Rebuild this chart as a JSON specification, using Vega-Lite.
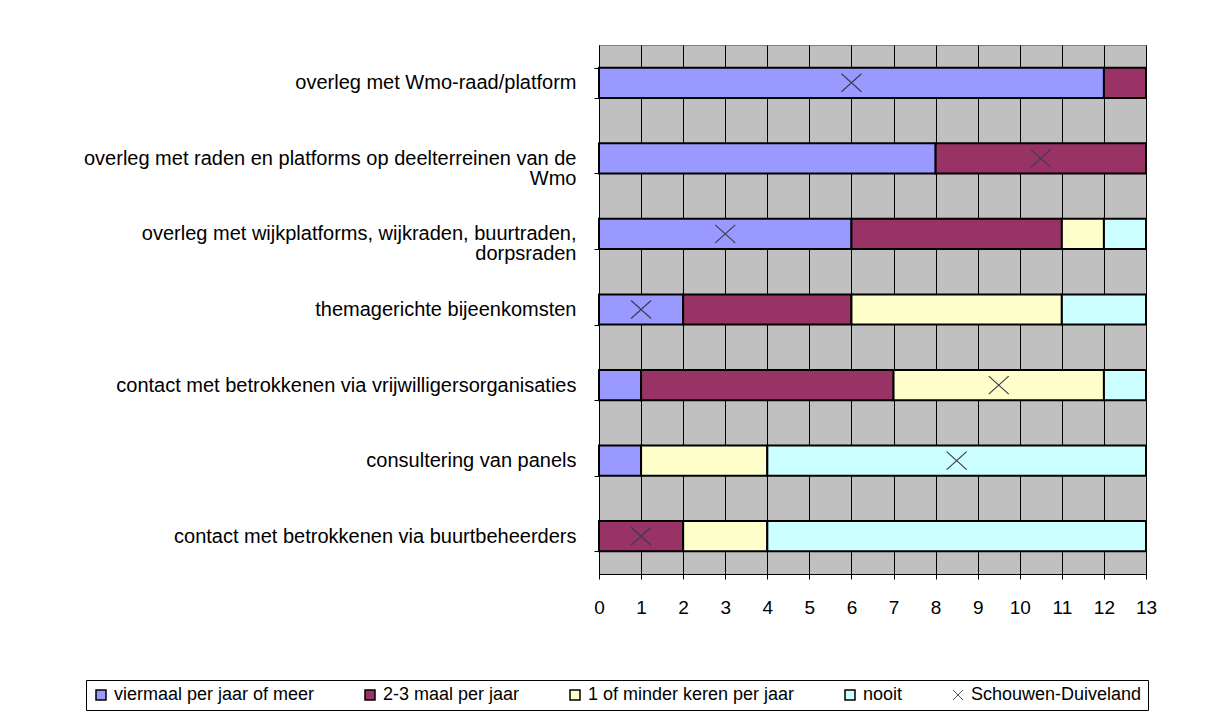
{
  "$schema": "https://vega.github.io/schema/vega-lite/v6.json",
  "autosize": "none",
  "width": 547,
  "height": 529,
  "padding": {"left": 599, "top": 45, "right": 68, "bottom": 150},
  "background": "white",
  "datasets": {
    "segments": [
      {"item": "overleg met Wmo-raad/platform", "freq": "viermaal per jaar of meer", "k": 1, "n": 12},
      {"item": "overleg met Wmo-raad/platform", "freq": "2-3 maal per jaar", "k": 2, "n": 1},
      {"item": "overleg met raden en platforms op deelterreinen van de|Wmo", "freq": "viermaal per jaar of meer", "k": 1, "n": 8},
      {"item": "overleg met raden en platforms op deelterreinen van de|Wmo", "freq": "2-3 maal per jaar", "k": 2, "n": 5},
      {"item": "overleg met wijkplatforms, wijkraden, buurtraden,|dorpsraden", "freq": "viermaal per jaar of meer", "k": 1, "n": 6},
      {"item": "overleg met wijkplatforms, wijkraden, buurtraden,|dorpsraden", "freq": "2-3 maal per jaar", "k": 2, "n": 5},
      {"item": "overleg met wijkplatforms, wijkraden, buurtraden,|dorpsraden", "freq": "1 of minder keren per jaar", "k": 3, "n": 1},
      {"item": "overleg met wijkplatforms, wijkraden, buurtraden,|dorpsraden", "freq": "nooit", "k": 4, "n": 1},
      {"item": "themagerichte bijeenkomsten", "freq": "viermaal per jaar of meer", "k": 1, "n": 2},
      {"item": "themagerichte bijeenkomsten", "freq": "2-3 maal per jaar", "k": 2, "n": 4},
      {"item": "themagerichte bijeenkomsten", "freq": "1 of minder keren per jaar", "k": 3, "n": 5},
      {"item": "themagerichte bijeenkomsten", "freq": "nooit", "k": 4, "n": 2},
      {"item": "contact met betrokkenen via vrijwilligersorganisaties", "freq": "viermaal per jaar of meer", "k": 1, "n": 1},
      {"item": "contact met betrokkenen via vrijwilligersorganisaties", "freq": "2-3 maal per jaar", "k": 2, "n": 6},
      {"item": "contact met betrokkenen via vrijwilligersorganisaties", "freq": "1 of minder keren per jaar", "k": 3, "n": 5},
      {"item": "contact met betrokkenen via vrijwilligersorganisaties", "freq": "nooit", "k": 4, "n": 1},
      {"item": "consultering van panels", "freq": "viermaal per jaar of meer", "k": 1, "n": 1},
      {"item": "consultering van panels", "freq": "1 of minder keren per jaar", "k": 3, "n": 3},
      {"item": "consultering van panels", "freq": "nooit", "k": 4, "n": 9},
      {"item": "contact met betrokkenen via buurtbeheerders", "freq": "2-3 maal per jaar", "k": 2, "n": 2},
      {"item": "contact met betrokkenen via buurtbeheerders", "freq": "1 of minder keren per jaar", "k": 3, "n": 2},
      {"item": "contact met betrokkenen via buurtbeheerders", "freq": "nooit", "k": 4, "n": 9}
    ],
    "markers": [
      {"item": "overleg met Wmo-raad/platform", "pos": 6},
      {"item": "overleg met raden en platforms op deelterreinen van de|Wmo", "pos": 10.5},
      {"item": "overleg met wijkplatforms, wijkraden, buurtraden,|dorpsraden", "pos": 3},
      {"item": "themagerichte bijeenkomsten", "pos": 1},
      {"item": "contact met betrokkenen via vrijwilligersorganisaties", "pos": 9.5},
      {"item": "consultering van panels", "pos": 8.5},
      {"item": "contact met betrokkenen via buurtbeheerders", "pos": 1}
    ]
  },
  "config": {
    "view": {"fill": "#C0C0C0", "stroke": "#808080", "strokeWidth": 1},
    "font": "Liberation Sans"
  },
  "layer": [
    {
      "data": {"name": "segments"},
      "mark": {"type": "bar", "stroke": "black", "strokeWidth": 2, "strokeJoin": "miter"},
      "encoding": {
        "y": {
          "field": "item",
          "type": "nominal",
          "scale": {
            "domain": [
              "overleg met Wmo-raad/platform",
              "overleg met raden en platforms op deelterreinen van de|Wmo",
              "overleg met wijkplatforms, wijkraden, buurtraden,|dorpsraden",
              "themagerichte bijeenkomsten",
              "contact met betrokkenen via vrijwilligersorganisaties",
              "consultering van panels",
              "contact met betrokkenen via buurtbeheerders"
            ],
            "paddingInner": 0.6,
            "paddingOuter": 0.3
          },
          "axis": {
            "title": null,
            "tickBand": "extent",
            "labelExpr": "split(datum.label, '|')",
            "labelFont": "Liberation Sans",
            "labelFontSize": 20,
            "labelColor": "black",
            "labelLimit": 700,
            "labelPadding": 18,
            "labelLineHeight": 20,
            "tickSize": 5,
            "tickColor": "black",
            "domainColor": "black",
            "grid": false,
            "encode": {
              "labels": {
                "update": {
                  "dy": [
                    {"test": "indexof(datum.value, '|') >= 0", "value": -8},
                    {"value": 0}
                  ]
                }
              }
            }
          }
        },
        "x": {
          "field": "n",
          "type": "quantitative",
          "stack": "zero",
          "scale": {"domain": [0, 13], "nice": false},
          "axis": {
            "title": null,
            "values": [0, 1, 2, 3, 4, 5, 6, 7, 8, 9, 10, 11, 12, 13],
            "grid": true,
            "gridColor": "black",
            "gridOpacity": 1,
            "gridWidth": 1,
            "labelFont": "Liberation Sans",
            "labelFontSize": 19,
            "labelColor": "black",
            "labelPadding": 19,
            "labelFlush": false,
            "tickSize": 5,
            "tickColor": "black",
            "domainColor": "black"
          }
        },
        "color": {
          "field": "freq",
          "type": "nominal",
          "scale": {
            "domain": ["viermaal per jaar of meer", "2-3 maal per jaar", "1 of minder keren per jaar", "nooit", "Schouwen-Duiveland"],
            "range": ["#9999FF", "#993366", "#FFFFCC", "#CCFFFF", "#3c3c50"]
          },
          "legend": {
            "title": null,
            "orient": "none",
            "legendX": -513,
            "legendY": 635,
            "direction": "horizontal",
            "labelFont": "Liberation Sans",
            "labelFontSize": 18,
            "labelColor": "black",
            "labelOffset": 4,
            "labelLimit": 400,
            "symbolSize": 100,
            "symbolType": "square",
            "symbolStrokeWidth": 1.5,
            "symbolStrokeColor": "black",
            "strokeColor": "black",
            "fillColor": "white",
            "padding": 6,
            "columnPadding": 46,
            "encode": {
              "symbols": {
                "update": {
                  "shape": {"signal": "datum.value === 'Schouwen-Duiveland' ? 'M-1,-1L1,1M-1,1L1,-1' : 'square'"},
                  "fill": {"signal": "datum.value === 'Schouwen-Duiveland' ? 'transparent' : scale('color', datum.value)"},
                  "stroke": {"signal": "datum.value === 'Schouwen-Duiveland' ? '#555555' : 'black'"},
                  "strokeWidth": {"signal": "datum.value === 'Schouwen-Duiveland' ? 1 : 1.5"},
                  "opacity": {"value": 1}
                }
              }
            }
          }
        },
        "order": {"field": "k", "type": "quantitative"}
      }
    },
    {
      "data": {"name": "markers"},
      "mark": {
        "type": "point",
        "shape": "M-1,-0.9L1,0.9M-1,0.9L1,-0.9",
        "filled": false,
        "size": 400,
        "strokeWidth": 1.2,
        "opacity": 1,
        "color": "#3c3c50"
      },
      "encoding": {
        "y": {"field": "item", "type": "nominal"},
        "x": {"field": "pos", "type": "quantitative"}
      }
    }
  ]
}
